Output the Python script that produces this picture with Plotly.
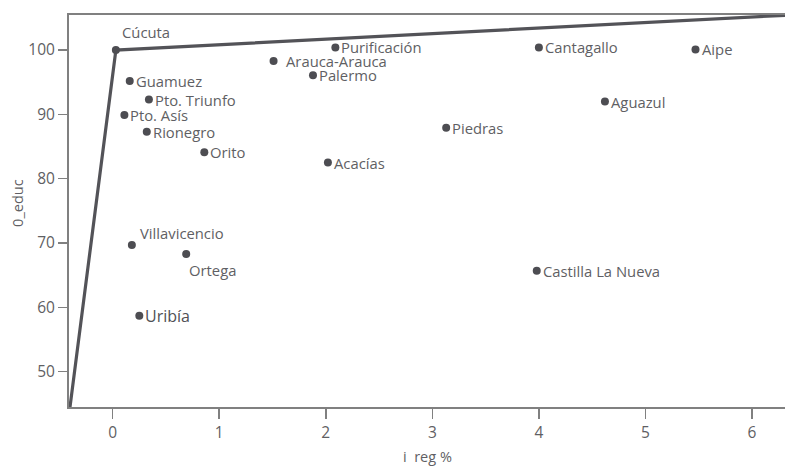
import plotly.graph_objects as go

# ---- data ----
names = ["Cúcuta", "Guamuez", "Pto. Triunfo", "Pto. Asís", "Rionegro", "Orito",
         "Arauca-Arauca", "Palermo", "Purificación", "Acacías", "Piedras",
         "Cantagallo", "Aipe", "Aguazul", "Castilla La Nueva",
         "Villavicencio", "Ortega"]
i_reg = [0.03, 0.16, 0.34, 0.11, 0.32, 0.86,
         1.51, 1.88, 2.09, 2.02, 3.13,
         4.00, 5.47, 4.62, 3.98,
         0.18, 0.69]
educ = [100.0, 95.2, 92.3, 89.9, 87.3, 84.1,
        98.3, 96.1, 100.4, 82.5, 87.9,
        100.4, 100.1, 92.0, 65.7,
        69.7, 68.3]
label_pos = ["above", "right", "right", "right", "right", "right",
             "right_wide", "right", "right", "right", "right",
             "right", "right", "right", "right",
             "above", "below"]

focus_name = ["Uribía"]
focus_x = [0.25]
focus_y = [58.7]

frontier_x = [-0.42, 0.03, 6.6]
frontier_y = [42.0, 100.0, 105.65]

x_ticks = [0, 1, 2, 3, 4, 5, 6]
y_ticks = [50, 60, 70, 80, 90, 100]

FONT = "Open Sans, Noto Sans, sans-serif"
DOT = "#4d4d52"
TXT = "#5f5f64"
AX = "#808080"

fig = go.Figure()
fig.add_trace(go.Scatter(x=frontier_x, y=frontier_y, mode="lines",
                         line=dict(color="#535358", width=3.2),
                         hoverinfo="skip", showlegend=False))
fig.add_trace(go.Scatter(x=i_reg, y=educ, mode="markers",
                         marker=dict(color=DOT, size=8),
                         text=names, showlegend=False))
fig.add_trace(go.Scatter(x=focus_x, y=focus_y, mode="markers",
                         marker=dict(color=DOT, size=8),
                         text=focus_name, showlegend=False))

shifts = {"right": (4, 0, "left", "middle"),
          "right_wide": (10, 0, "left", "middle"),
          "above": (4, 6, "left", "bottom"),
          "below": (1, -4, "left", "top")}
anns = []
for n, x, y, p in zip(names, i_reg, educ, label_pos):
    xs, ys, xa, ya = shifts[p]
    if n == "Villavicencio":
        xs, ys = 6, 0
    anns.append(dict(x=x, y=y, text=n, showarrow=False, xanchor=xa, yanchor=ya,
                     xshift=xs, yshift=ys,
                     font=dict(family=FONT, size=14.8, color=TXT)))
for n, x, y in zip(focus_name, focus_x, focus_y):
    anns.append(dict(x=x, y=y, text=n, showarrow=False, xanchor="left", yanchor="middle",
                     xshift=4, yshift=0,
                     font=dict(family=FONT, size=16, color="#505055")))

# axis titles
anns.append(dict(x=0.5, y=-0.125, xref="paper", yref="paper", text="i  reg %",
                 showarrow=False, xanchor="center", yanchor="middle",
                 font=dict(family=FONT, size=14.5, color=TXT)))
anns.append(dict(x=-0.073, y=0.52, xref="paper", yref="paper", text="0_educ",
                 showarrow=False, xanchor="center", yanchor="middle", textangle=-90,
                 font=dict(family=FONT, size=14.5, color=TXT)))

fig.update_layout(
    width=785, height=472,
    margin=dict(l=69, r=0, t=15, b=65),
    paper_bgcolor="white", plot_bgcolor="white",
    font=dict(family=FONT, color=TXT, size=14),
    annotations=anns,
    hovermode=False,
    xaxis=dict(range=[-0.41, 6.31], tickvals=x_ticks, showgrid=False, zeroline=False,
               automargin=False,
               showline=True, linecolor=AX, linewidth=2, mirror=True,
               ticks="outside", ticklen=10, tickwidth=1.5, tickcolor=AX,
               tickfont=dict(size=15.5, color=TXT)),
    yaxis=dict(range=[44.5, 105.45], tickvals=y_ticks, showgrid=False, zeroline=False,
               automargin=False,
               showline=True, linecolor=AX, linewidth=2,
               ticks="outside", ticklen=9, tickwidth=1.5, tickcolor=AX,
               tickfont=dict(size=15.5, color=TXT)),
)

fig.write_html("out.html",
               config={"displayModeBar": False, "staticPlot": True},
               post_script="document.body.style.margin='0';document.body.style.overflow='hidden';")
